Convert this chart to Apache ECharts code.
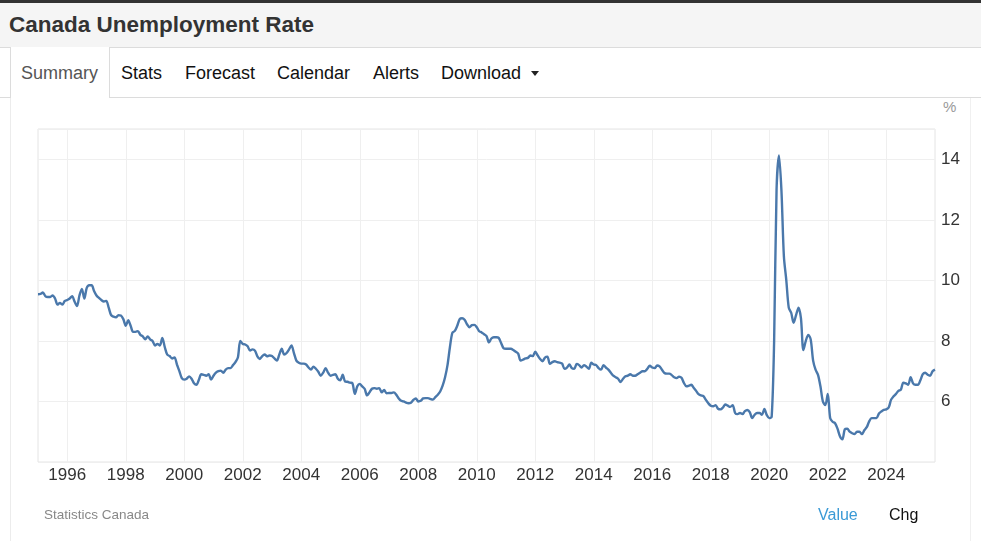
<!DOCTYPE html>
<html>
<head>
<meta charset="utf-8">
<script src="https://cdn.jsdelivr.net/npm/echarts@6/dist/echarts.min.js"></script>
<style>
  html, body { margin:0; padding:0; width:981px; height:541px; overflow:hidden; background:#fff;
    font-family: "Liberation Sans", Arial, sans-serif; }
  .abs { position:absolute; }
  #topbar { left:0; top:0; width:981px; height:3px; background:#333; }
  #header { left:0; top:3px; width:981px; height:44px; background:#f5f5f5; border-bottom:1px solid #dcdcdc; }
  #title { left:9px; top:3px; height:44px; line-height:44px; font-weight:bold; font-size:22.5px; color:#333; white-space:nowrap; }
  #tabline { left:0; top:97px; width:981px; height:1px; background:#dcdcdc; }
  #activeTab { left:10px; top:47px; width:98px; height:51px; background:#fff; border-left:1px solid #dcdcdc; border-right:1px solid #dcdcdc; }
  #panelL { left:10px; top:98px; width:1px; height:443px; background:#ececec; }
  #panelR { left:970px; top:98px; width:1px; height:443px; background:#f0f0f0; }
  .tab { top:62px; height:22px; line-height:22px; font-size:18px; color:#111; white-space:nowrap; }
  #caret { left:531px; top:71px; width:0; height:0; border-left:4.5px solid transparent; border-right:4.5px solid transparent; border-top:5px solid #222; }
  #chart { left:0; top:0; width:981px; height:541px; }
  #pct { left:943px; top:98px; font-size:15px; color:#999; }
  #src { left:44px; top:507px; font-size:13.5px; color:#888; }
  #val { left:818px; top:506px; font-size:16px; color:#3a9ad6; }
  #chg { left:889px; top:506px; font-size:16px; color:#111; }
</style>
</head>
<body>
<div class="abs" id="topbar"></div>
<div class="abs" id="header"></div>
<div class="abs" id="title">Canada Unemployment Rate</div>
<div class="abs" id="tabline"></div>
<div class="abs" id="activeTab"></div>
<div class="abs" id="panelL"></div>
<div class="abs" id="panelR"></div>
<div class="abs tab" style="left:21px;color:#555">Summary</div>
<div class="abs tab" style="left:121px">Stats</div>
<div class="abs tab" style="left:185px">Forecast</div>
<div class="abs tab" style="left:277px">Calendar</div>
<div class="abs tab" style="left:373px">Alerts</div>
<div class="abs tab" style="left:441px">Download</div>
<div class="abs" id="caret"></div>
<div class="abs" id="pct">%</div>
<div class="abs" id="chart"></div>
<div class="abs" id="src">Statistics Canada</div>
<div class="abs" id="val">Value</div>
<div class="abs" id="chg">Chg</div>
<script>
// Monthly unemployment rate (%), Jan..Dec of each year
const r1995 = [9.54,9.55,9.6,9.48,9.45,9.45,9.5,9.4,9.2,9.25,9.2,9.32];
const r1996 = [9.35,9.4,9.48,9.3,9.15,9.5,9.72,9.4,9.75,9.84,9.84,9.65];
const r1997 = [9.5,9.42,9.35,9.3,9.32,9.1,8.85,8.8,8.78,8.85,8.84,8.72];
const r1998 = [8.5,8.68,8.5,8.3,8.3,8.32,8.2,8.15,8.05,8.15,8.05,8.0];
const r1999 = [7.85,7.9,7.85,8.1,7.8,7.55,7.5,7.42,7.45,7.22,7.0,6.77];
const r2000 = [6.72,6.75,6.83,6.75,6.6,6.55,6.72,6.9,6.88,6.85,6.9,6.72];
const r2001 = [6.85,6.95,7.0,7.02,6.95,7.05,7.1,7.1,7.2,7.3,7.45,8.0];
const r2002 = [7.9,7.88,7.82,7.68,7.72,7.68,7.49,7.4,7.5,7.55,7.49,7.52];
const r2003 = [7.5,7.42,7.35,7.55,7.74,7.55,7.6,7.72,7.85,7.6,7.35,7.28];
const r2004 = [7.25,7.25,7.22,7.12,7.05,7.15,7.08,6.98,6.85,6.95,7.1,6.95];
const r2005 = [6.85,6.88,6.9,6.75,6.7,6.88,6.66,6.65,6.62,6.6,6.25,6.5];
const r2006 = [6.58,6.5,6.42,6.2,6.3,6.42,6.44,6.42,6.44,6.3,6.38,6.27];
const r2007 = [6.28,6.28,6.3,6.22,6.1,6.02,6.0,5.96,5.94,5.96,6.05,6.1];
const r2008 = [6.0,6.02,6.1,6.11,6.11,6.08,6.06,6.14,6.22,6.33,6.52,6.8];
const r2009 = [7.2,7.8,8.27,8.33,8.5,8.72,8.75,8.7,8.55,8.45,8.52,8.53];
const r2010 = [8.45,8.32,8.28,8.22,8.16,7.95,8.08,8.12,8.12,8.1,7.93,7.76];
const r2011 = [7.74,7.74,7.74,7.7,7.64,7.58,7.35,7.38,7.42,7.44,7.52,7.5];
const r2012 = [7.64,7.52,7.4,7.33,7.45,7.48,7.24,7.3,7.33,7.3,7.28,7.25];
const r2013 = [7.08,7.12,7.22,7.1,7.08,7.24,7.2,7.12,7.2,7.15,7.08,7.28];
const r2014 = [7.22,7.2,7.1,7.05,7.2,7.12,7.05,6.95,6.85,6.8,6.75,6.64];
const r2015 = [6.75,6.83,6.85,6.9,6.85,6.85,6.9,6.95,7.0,7.0,7.08,7.18];
const r2016 = [7.12,7.1,7.19,7.16,7.05,6.94,6.92,6.92,6.87,6.8,6.77,6.82];
const r2017 = [6.78,6.61,6.5,6.52,6.55,6.45,6.35,6.24,6.2,6.18,6.05,5.94];
const r2018 = [5.86,5.84,5.88,5.76,5.74,5.8,5.9,5.86,5.82,5.88,5.62,5.58];
const r2019 = [5.62,5.58,5.68,5.72,5.65,5.45,5.56,5.62,5.62,5.56,5.75,5.55];
const r2020 = [5.45,5.5,8.0,13.0,14.13,12.97,10.8,10.0,9.1,8.93,8.6,8.85];
const r2021 = [9.1,8.75,7.7,8.0,8.2,8.05,7.35,7.05,6.88,6.5,6.0,5.88];
const r2022 = [6.25,5.45,5.33,5.28,5.1,4.85,4.75,5.08,5.1,5.0,4.95,4.92];
const r2023 = [5.0,5.0,4.92,5.05,5.15,5.34,5.45,5.45,5.45,5.6,5.67,5.72];
const r2024 = [5.74,5.8,6.06,6.17,6.25,6.35,6.39,6.62,6.6,6.55,6.8,6.6];
const r2025 = [6.55,6.55,6.7,6.9,6.95,6.88,6.85,7.0,7.05];

const years = [1995,1996,1997,1998,1999,2000,2001,2002,2003,2004,2005,2006,2007,2008,2009,2010,
               2011,2012,2013,2014,2015,2016,2017,2018,2019,2020,2021,2022,2023,2024,2025];
const yearly = [r1995,r1996,r1997,r1998,r1999,r2000,r2001,r2002,r2003,r2004,r2005,r2006,r2007,r2008,r2009,r2010,
                r2011,r2012,r2013,r2014,r2015,r2016,r2017,r2018,r2019,r2020,r2021,r2022,r2023,r2024,r2025];
const yTickLabels = [6, 8, 10, 12, 14];

const months = [];
const values = [];
years.forEach((y, i) => {
  yearly[i].forEach((v, m) => {
    months.push(y + '-' + String(m + 1).padStart(2, '0'));
    values.push(v);
  });
});

const isEvenYearStart = (idx, val) => {
  const s = String(val);
  return s.endsWith('-01') && (+s.slice(0, 4)) % 2 === 0;
};

const chart = echarts.init(document.getElementById('chart'), null, { renderer: 'canvas' });
chart.setOption({
  animation: false,
  grid: { left: 38, right: 46, top: 129, bottom: 79, show: true, borderColor: '#e4e4e4', borderWidth: 1,
          outerBoundsMode: 'none' },
  xAxis: {
    type: 'category',
    data: months,
    boundaryGap: false,
    axisLine: { show: false },
    axisTick: { show: false },
    axisLabel: {
      interval: isEvenYearStart,
      formatter: (v) => String(v).slice(0, 4),
      color: '#333',
      fontSize: 17,
      margin: 5,
      fontFamily: 'Liberation Sans, Arial, sans-serif'
    },
    splitLine: { show: true, interval: isEvenYearStart, lineStyle: { color: '#efefef', width: 1 } }
  },
  yAxis: {
    type: 'value',
    position: 'right',
    min: 4,
    max: 15,
    interval: 2,
    axisLine: { show: false },
    axisTick: { show: false },
    axisLabel: {
      formatter: (v) => (yTickLabels.indexOf(v) >= 0 ? String(v) : ''),
      color: '#333',
      fontSize: 17,
      margin: 6,
      fontFamily: 'Liberation Sans, Arial, sans-serif'
    },
    splitLine: { lineStyle: { color: '#efefef', width: 1 } }
  },
  series: [{
    type: 'line',
    data: values,
    smooth: 0.3,
    showSymbol: false,
    lineStyle: { color: '#4a78ab', width: 2.4 },
    itemStyle: { color: '#4a78ab' }
  }]
});
</script>
</body>
</html>
